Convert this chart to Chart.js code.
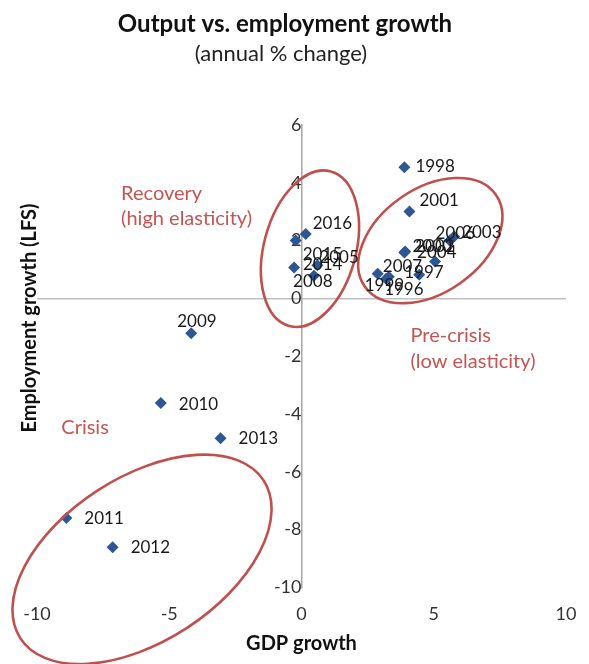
<!DOCTYPE html>
<html><head><meta charset="utf-8">
<script src="https://cdn.jsdelivr.net/npm/chart.js@4/dist/chart.umd.min.js"></script>
<style>html,body{margin:0;padding:0;background:#fff}#wrap{width:589px;height:664px;position:relative}</style>
</head><body><div id="wrap"><canvas id="c" width="589" height="664"></canvas></div>
<script>
// ---- data ----
const years = ['1996','1997','1998','1999','2000','2001','2002','2003','2004','2005','2006','2007','2008','2009','2010','2011','2012','2013','2014','2015','2016'];
const gdpGrowth = [3.2, 4.45, 3.89, 2.88, 3.89, 4.08, 3.92, 5.77, 5.05, 0.6, 5.6, 3.3, -0.28, -4.17, -5.32, -8.89, -7.14, -3.06, 0.47, -0.22, 0.16];
const employmentGrowth = [0.68, 0.82, 4.54, 0.85, 1.59, 3.01, 1.62, 2.14, 1.28, 1.15, 2.0, 0.75, 1.07, -1.21, -3.62, -7.6, -8.61, -4.84, 0.78, 2.0, 2.23];
const xTickValues = [-10, -5, 0, 5, 10];
const yTickValues = [6, 4, 2, 0, -2, -4, -6, -8, -10];

// ---- layout / style config ----
const labelOffsets = {
  '1996':[-2,11],'1997':[-15,-2],'1998':[11,-1],'1999':[-13,12],'2000':[8,-6],'2001':[10,-11],
  '2002':[10,-5],'2003':[8,-4],'2004':[-18,-9],'2005':[2,-8],'2006':[-14,-7],'2007':[-6,-10],
  '2008':[-1,14],'2009':[-14,-12],'2010':[18,1],'2011':[18,0],'2012':[18,0],'2013':[18,0],
  '2014':[-11,-11],'2015':[7,14],'2016':[7,-10]
};
const ellipses = [
  {cx:0.32, cy:1.72, rx:80, ry:46, rot:-75},
  {cx:4.87, cy:2.0, rx:80, ry:52, rot:-35},
  {cx:-6.03, cy:-9.03, rx:145, ry:82, rot:-33}
];
const groupNotes = [
  {text:'Recovery', x:-6.82, y:3.63},
  {text:'(high elasticity)', x:-6.82, y:2.77},
  {text:'Pre-crisis', x:4.12, y:-1.30},
  {text:'(low elasticity)', x:4.12, y:-2.17},
  {text:'Crisis', x:-9.08, y:-4.47}
];
const RED = '#C0504D';
const FONT = 'Lato';

const overlay = {
  id: 'overlay',
  afterDatasetsDraw(chart) {
    const {ctx, scales: {x, y}} = chart;
    ctx.save();
    ellipses.forEach(e => {
      ctx.beginPath();
      ctx.ellipse(x.getPixelForValue(e.cx), y.getPixelForValue(e.cy), e.rx, e.ry, e.rot * Math.PI / 180, 0, 2 * Math.PI);
      ctx.strokeStyle = RED; ctx.lineWidth = 2.6; ctx.stroke();
    });
    const meta = chart.getDatasetMeta(0);
    ctx.font = '17px ' + FONT; ctx.fillStyle = '#1a1a1a';
    ctx.textAlign = 'left'; ctx.textBaseline = 'middle';
    meta.data.forEach((pt, i) => {
      const off = labelOffsets[years[i]] || [18, 0];
      ctx.fillText(years[i], pt.x + off[0], pt.y + off[1]);
    });
    ctx.font = '20px ' + FONT; ctx.fillStyle = '#C65452';
    groupNotes.forEach(n => ctx.fillText(n.text, x.getPixelForValue(n.x), y.getPixelForValue(n.y)));
    // titles
    ctx.textAlign = 'center'; ctx.textBaseline = 'alphabetic'; ctx.fillStyle = '#111';
    ctx.font = 'bold 24px ' + FONT;
    ctx.fillText('Output vs. employment growth', 285, 32);
    ctx.font = '22px ' + FONT; ctx.fillStyle = '#222';
    ctx.fillText('(annual % change)', 281, 61);
    // y axis title
    ctx.translate(30, 318); ctx.rotate(-Math.PI / 2);
    ctx.font = 'bold 20px ' + FONT; ctx.fillStyle = '#111'; ctx.textBaseline = 'middle';
    ctx.fillText('Employment growth (LFS)', 0, 0);
    ctx.restore();
  }
};

new Chart(document.getElementById('c'), {
  type: 'scatter',
  data: {
    datasets: [{
      data: gdpGrowth.map((g, i) => ({x: g, y: employmentGrowth[i]})),
      pointStyle: 'rectRot', pointRadius: 6, backgroundColor: '#2C5694', borderColor: '#2C5694', borderWidth: 0
    }]
  },
  options: {
    responsive: false, animation: false,
    layout: {padding: {left: 37, right: 23, top: 125, bottom: 8}},
    plugins: {legend: {display: false}, tooltip: {enabled: false}},
    scales: {
      x: {
        type: 'linear', min: -10, max: 10, position: 'bottom',
        afterBuildTicks: s => { s.ticks = xTickValues.map(v => ({value: v})); },
        afterFit: s => { s.paddingLeft = 0; s.paddingRight = 0; },
        grid: {display: false, drawTicks: false}, border: {display: false},
        ticks: {padding: 16, font: {family: FONT, size: 18}, color: '#333'},
        title: {display: true, text: 'GDP growth', font: {family: FONT, size: 20, weight: 'bold'}, color: '#111', padding: {top: -9, bottom: 0}}
      },
      y: {
        type: 'linear', min: -10, max: 6, position: {x: 0},
        afterBuildTicks: s => { s.ticks = yTickValues.map(v => ({value: v})); },
        grid: {drawTicks: false, lineWidth: 1.5, color: c => (c.tick && c.tick.value === 0) ? '#BFBFBF' : 'rgba(0,0,0,0)'},
        border: {display: true, color: '#A6A6A6', width: 1.5},
        ticks: {padding: 17, font: {family: FONT, size: 18}, color: '#333'}
      }
    }
  },
  plugins: [overlay]
});
</script></body></html>
